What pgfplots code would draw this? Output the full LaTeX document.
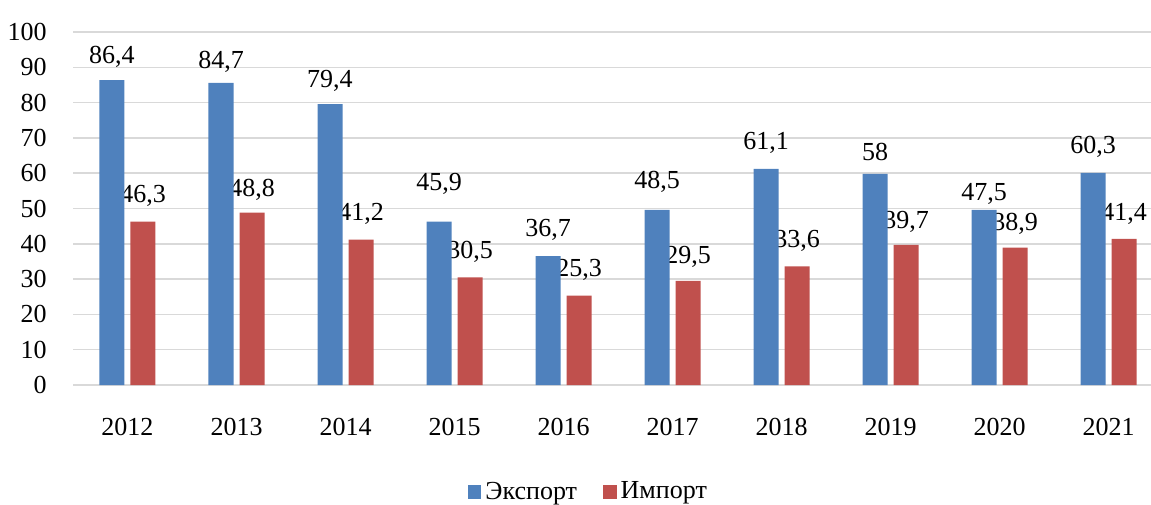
\documentclass[border=0pt]{standalone}
\usepackage{fontspec}
\setmainfont{Liberation Serif}
\usepackage{pgfplots}
\pgfplotsset{compat=1.18}
\definecolor{exportblue}{HTML}{4F81BD}
\definecolor{importred}{HTML}{C0504D}
\definecolor{gridgray}{HTML}{D9D9D9}

% bar heights as drawn
\pgfplotstableread{
x exp imp
0 86.4 46.3
1 85.6 48.8
2 79.6 41.2
3 46.3 30.5
4 36.5 25.3
5 49.6 29.5
6 61.2 33.6
7 59.8 39.7
8 49.6 38.9
9 60.1 41.4
}\bars
% label baselines and texts
\pgfplotstableread{
x ye le yi li
0 91.2 86,4 51.6 46,3
1 89.8 84,7 53.3 48,8
2 84.4 79,4 46.5 41,2
3 55.2 45,9 35.9 30,5
4 42.0 36,7 30.7 25,3
5 55.8 48,5 34.3 29,5
6 66.7 61,1 39.0 33,6
7 63.7 58 44.4 39,7
8 52.4 47,5 43.7 38,9
9 65.7 60,3 46.7 41,4
}\labels

\pgfplotsset{frame/.style={
  at={(0pt,0pt)}, anchor=south west,
  scale only axis, width=539pt, height=176.5pt,
  xmin=-0.5, xmax=9.39, ymin=0, ymax=100,
  axis line style={draw=none}, major tick length=0pt,
  tick label style={font=\fontsize{13}{15}\selectfont},
  /pgf/number format/assume math mode=true}}

\begin{document}
\begin{tikzpicture}
\useasboundingbox (-36.5pt,-59.5pt) rectangle (539pt,192.5pt);
% grid and import labels underneath
\begin{axis}[frame,
  ytick={0,10,...,100}, xtick=\empty, yticklabels={},
  ymajorgrids, grid style={gridgray, line width=0.75pt}]
\addplot[draw=none, mark=none, nodes near coords, point meta=explicit symbolic,
  every node near coord/.append style={anchor=base, inner sep=0pt, xshift=7.75pt,
    font=\fontsize{13}{15}\selectfont, text=black}]
  table[x=x, y=yi, meta=li] {\labels};
\end{axis}
% bars on top
\begin{axis}[frame,
  ytick={0,10,...,100},
  xtick={0,...,9}, xticklabels={2012,2013,2014,2015,2016,2017,2018,2019,2020,2021},
  yticklabel style={anchor=east, inner sep=0pt, xshift=-13pt},
  xticklabel style={anchor=base, inner sep=0pt, yshift=-25pt},
  legend style={draw=none, fill=none, legend columns=2, font=\fontsize{13}{15}\selectfont,
    at={(0.479,-0.303)}, anchor=center,
    /tikz/every even column/.append style={column sep=11pt}},
  legend cell align=left,
]
\addplot[ybar, bar width=12.5pt, bar shift=-7.75pt, fill=exportblue, draw=none,
  legend image code/.code={\fill[exportblue] (0pt,-3.4pt) rectangle (6.8pt,3.4pt);}]
  table[x=x, y=exp] {\bars};
\addlegendentry{Экспорт}
\addplot[ybar, bar width=12.5pt, bar shift=7.75pt, fill=importred, draw=none,
  legend image code/.code={\fill[importred] (0pt,-3.4pt) rectangle (6.8pt,3.4pt);}]
  table[x=x, y=imp] {\bars};
\addlegendentry{Импорт}
\addplot[forget plot, draw=none, mark=none, nodes near coords, point meta=explicit symbolic,
  every node near coord/.append style={anchor=base, inner sep=0pt, xshift=-7.75pt,
    font=\fontsize{13}{15}\selectfont, text=black}]
  table[x=x, y=ye, meta=le] {\labels};
\end{axis}
\end{tikzpicture}
\end{document}
